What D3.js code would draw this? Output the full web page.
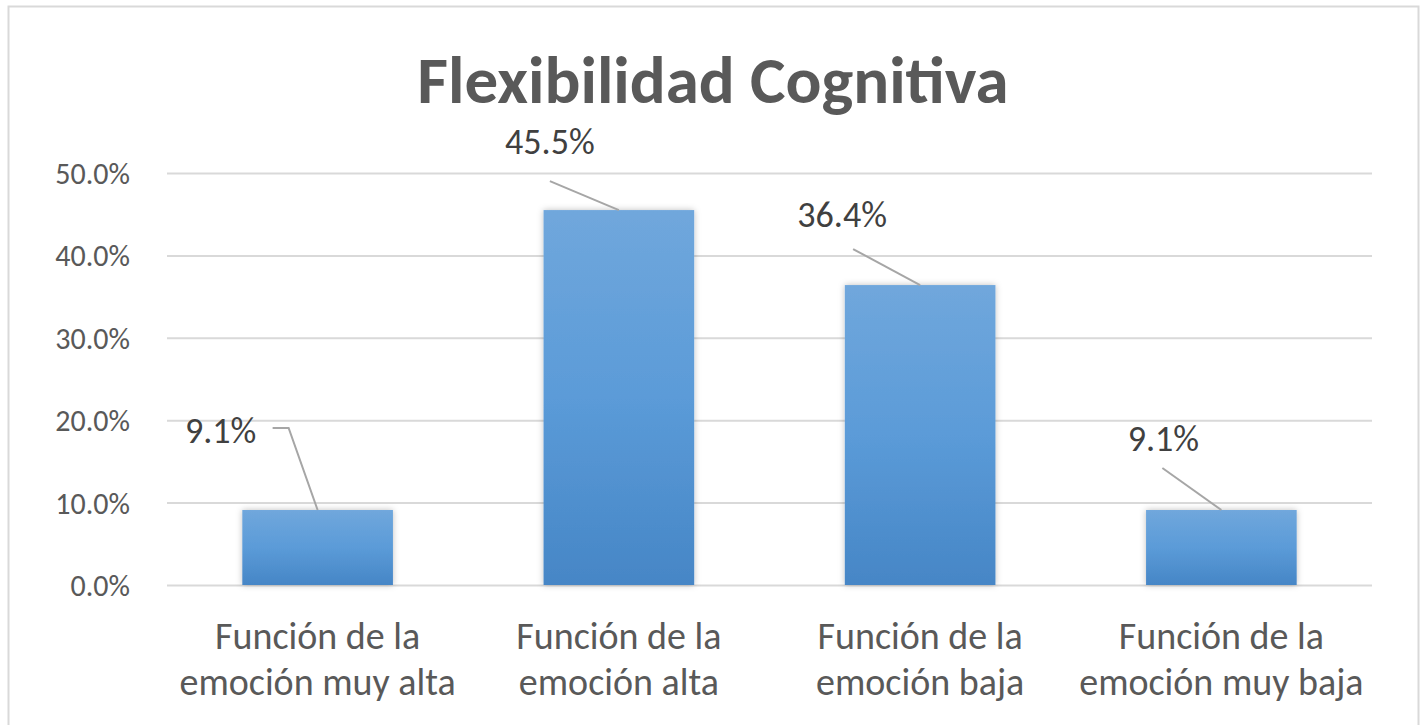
<!DOCTYPE html>
<html>
<head>
<meta charset="utf-8">
<script src="https://cdn.jsdelivr.net/npm/d3@7"></script>
<style>
  html, body { margin: 0; padding: 0; background: #fff; }
  svg { display: block; }
  text { font-family: Carlito, Lato, "Liberation Sans", sans-serif; }
</style>
</head>
<body>
<svg id="chart" width="1423" height="725"></svg>
<script>
const title = "Flexibilidad Cognitiva";
const categories = [
  ["Función de la", "emoción muy alta"],
  ["Función de la", "emoción alta"],
  ["Función de la", "emoción baja"],
  ["Función de la", "emoción muy baja"]
];
const values = [0.091, 0.455, 0.364, 0.091];
const valueLabels = ["9.1%", "45.5%", "36.4%", "9.1%"];
const yTicks = [0, 0.1, 0.2, 0.3, 0.4, 0.5];

const svg = d3.select("#chart");
const plot = { left: 167, right: 1372, top: 173, bottom: 585 };

// outer border
svg.append("rect").attr("x", 8.5).attr("y", 6.5).attr("width", 1410).attr("height", 730)
  .attr("fill", "#fff").attr("stroke", "#d9d9d9").attr("stroke-width", 2);

const defs = svg.append("defs");
const grad = defs.append("linearGradient").attr("id", "barGrad")
  .attr("x1", 0).attr("y1", 0).attr("x2", 0).attr("y2", 1);
grad.append("stop").attr("offset", "0%").attr("stop-color", "#70a7dc");
grad.append("stop").attr("offset", "50%").attr("stop-color", "#5b9bd8");
grad.append("stop").attr("offset", "100%").attr("stop-color", "#4686c6");
const shadow = defs.append("filter").attr("id", "shadow")
  .attr("x", "-20%").attr("y", "-20%").attr("width", "140%").attr("height", "140%");
shadow.append("feDropShadow").attr("dx", 0).attr("dy", 0).attr("stdDeviation", 3)
  .attr("flood-color", "#000").attr("flood-opacity", 0.25);

const x = d3.scaleBand().domain(d3.range(categories.length))
  .range([plot.left, plot.right]).paddingInner(0.5).paddingOuter(0.25);
const y = d3.scaleLinear().domain([0, 0.5]).range([plot.bottom, plot.top]);

// title
svg.append("text").attr("x", 713).attr("y", 103).attr("text-anchor", "middle")
  .attr("font-size", 67).attr("font-weight", "bold").attr("fill", "#595959").text(title);

// gridlines + y tick labels
const yAxis = d3.axisLeft(y).tickValues(yTicks).tickFormat(d3.format(".1%"))
  .tickSize(-(plot.right - plot.left)).tickPadding(37);
const gy = svg.append("g").attr("transform", `translate(${plot.left},0)`).call(yAxis);
gy.select(".domain").remove();
gy.selectAll(".tick line").attr("stroke", "#d9d9d9").attr("stroke-width", 2);
gy.selectAll(".tick text").attr("fill", "#595959").attr("font-size", 30)
  .attr("dy", "0.35em").style("font-family", "Carlito, Lato, sans-serif");

// bars
svg.append("g").selectAll("rect").data(values).join("rect")
  .attr("x", (d, i) => x(i)).attr("width", x.bandwidth())
  .attr("y", d => y(d)).attr("height", d => y(0) - y(d))
  .attr("fill", "url(#barGrad)").attr("filter", "url(#shadow)");

// x labels
const gx = svg.append("g");
categories.forEach((lines, i) => {
  const cx = x(i) + x.bandwidth() / 2;
  const t = gx.append("text").attr("x", cx).attr("y", 649)
    .attr("text-anchor", "middle").attr("fill", "#595959").attr("font-size", 38);
  lines.forEach((l, k) => t.append("tspan").attr("x", cx)
    .attr("dy", k === 0 ? 0 : 46).text(l));
});

// data labels with leader lines (label offsets relative to bar top center)
const labelOffsets = [
  { dx: -97, dy: -67, line: [[-45, -82], [-29, -82], [0, 0]] },
  { dx: -69, dy: -56, line: [[-69, -29], [0, 0]] },
  { dx: -78, dy: -58, line: [[-67, -36], [0, 0]] },
  { dx: -58, dy: -59, line: [[-59, -42], [0, 0]] }
];
const gl = svg.append("g");
values.forEach((v, i) => {
  const cx = x(i) + x.bandwidth() / 2, cy = y(v);
  const o = labelOffsets[i];
  gl.append("path")
    .attr("d", d3.line()(o.line.map(p => [cx + p[0], cy + p[1]])))
    .attr("fill", "none").attr("stroke", "#a6a6a6").attr("stroke-width", 2);
  gl.append("text").attr("x", cx + o.dx).attr("y", cy + o.dy)
    .attr("text-anchor", "middle").attr("fill", "#404040").attr("font-size", 36)
    .text(valueLabels[i]);
});
</script>
</body>
</html>
